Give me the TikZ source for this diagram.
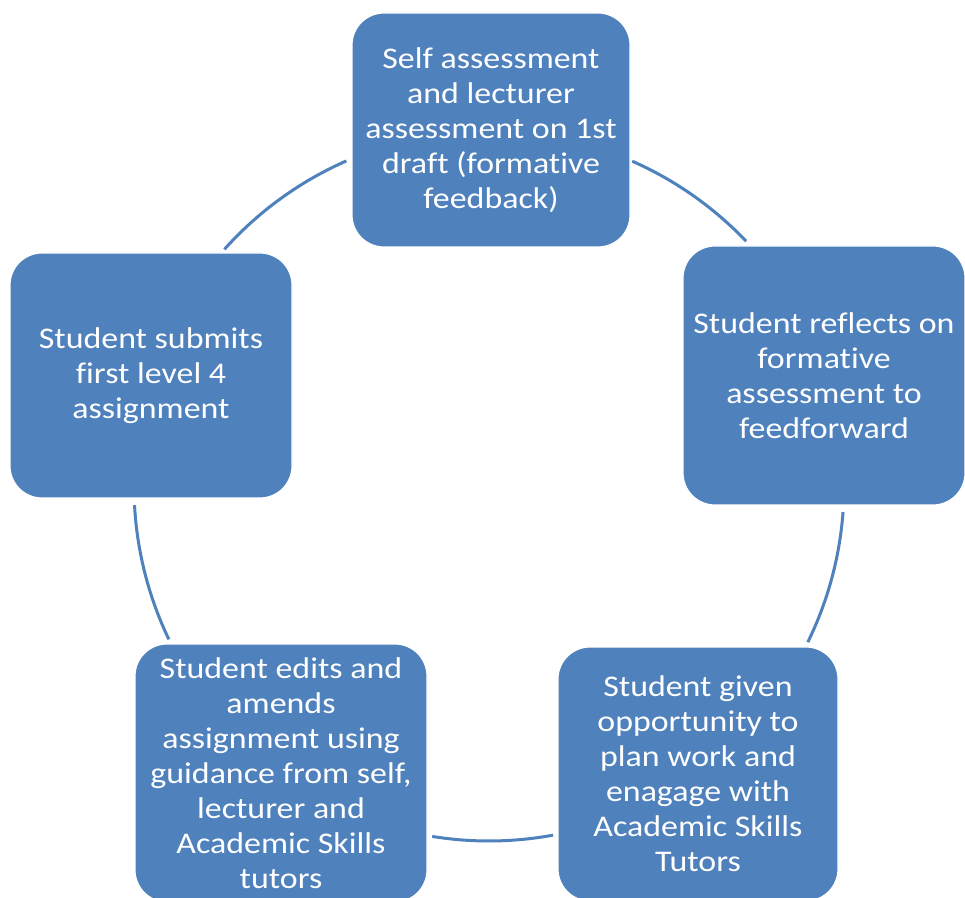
\documentclass[tikz,border=0pt]{standalone}
\usepackage{fontspec}
\setmainfont{Carlito}[FakeStretch=1.13, Ligatures=NoCommon]
\usetikzlibrary{calc}
\definecolor{boxblue}{HTML}{4F81BD}
\definecolor{arcblue}{HTML}{4F81BD}
\tikzset{
  stepbox/.style={draw=white, line width=1.2pt, fill=boxblue, rounded corners=32pt,
    text=white, align=center, inner sep=0pt,
    font=\fontsize{30}{35}\selectfont},
  cyclearc/.style={draw=arcblue, line width=3pt}
}
\begin{document}
\begin{tikzpicture}[x=1pt,y=1pt]
\useasboundingbox (0,0) rectangle (965,897);
\clip (0,0) rectangle (965,897);
\fill[white] (0,0) rectangle (965,897);
\coordinate (ctr) at (489,411);
% arcs
\coordinate (a1s) at ($(ctr)+(138.2:355)$);
\coordinate (a2s) at ($(ctr)+(66.2:355)$);
\coordinate (a3s) at ($(ctr)+(-4.2:355)$);
\coordinate (a4s) at ($(ctr)+(-79.6:355)$);
\coordinate (a5s) at ($(ctr)+(205.6:355)$);
\draw[cyclearc] (a1s) arc[start angle=138.2, end angle=113.7, radius=355];
\draw[cyclearc] (a2s) arc[start angle=66.2, end angle=43.6, radius=355];
\draw[cyclearc] (a3s) arc[start angle=-4.2, end angle=-26.1, radius=355];
\draw[cyclearc] (a4s) arc[start angle=-79.6, end angle=-99.2, radius=355];
\draw[cyclearc] (a5s) arc[start angle=205.6, end angle=183.1, radius=355];
% boxes
\node[stepbox, minimum width=278pt, minimum height=234pt] (top) at (491,767)
  {Self assessment\\and lecturer\\assessment on 1st\\draft (formative\\feedback)};
\node[stepbox, minimum width=282pt, minimum height=259pt] (right) at (824,521.5)
  {Student reflects on\\formative\\assessment to\\feedforward};
\node[stepbox, minimum width=280pt, minimum height=254pt] (bright) at (698,123)
  {Student given\\opportunity to\\plan work and\\enagage with\\Academic Skills\\Tutors};
\node[stepbox, minimum width=292pt, minimum height=258pt] (bleft) at (281,124)
  {Student edits and\\amends\\assignment using\\guidance from self,\\lecturer and\\Academic Skills\\tutors};
\node[stepbox, minimum width=282pt, minimum height=245pt] (left) at (151,521.5)
  {Student submits\\first level 4\\assignment};
\end{tikzpicture}
\end{document}
